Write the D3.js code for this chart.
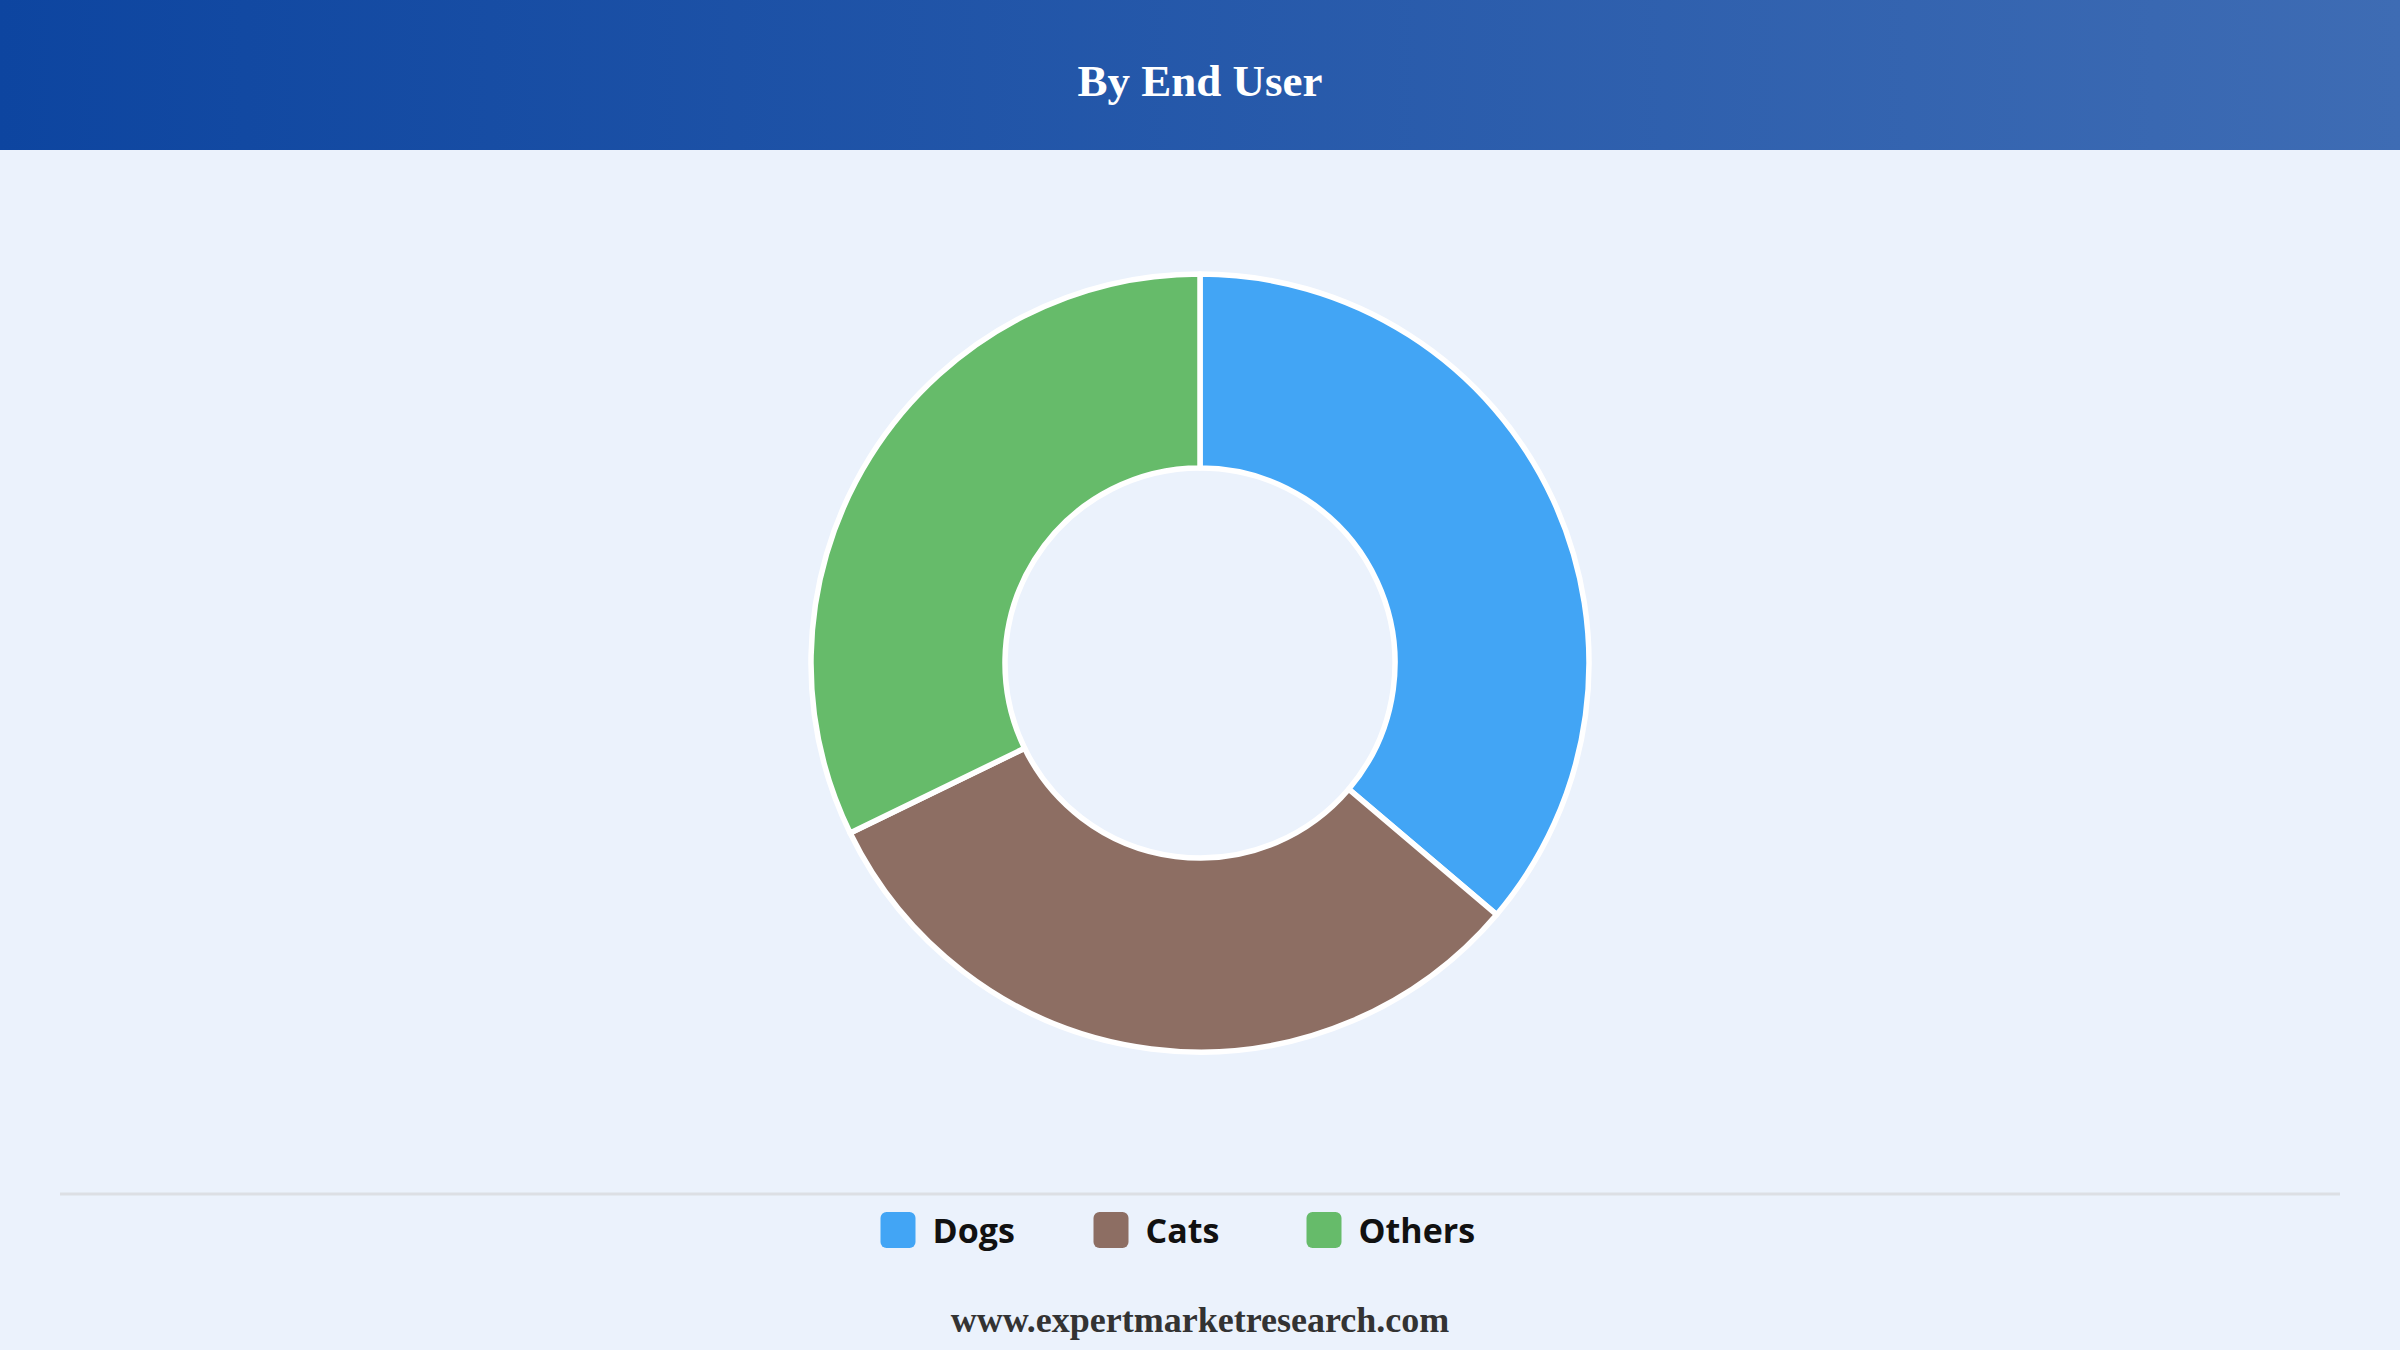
<!DOCTYPE html>
<html>
<head>
<meta charset="utf-8">
<script src="https://cdn.jsdelivr.net/npm/d3@7"></script>
<style>
  html, body { margin: 0; padding: 0; background: #ebf2fc; }
  svg { display: block; }
</style>
</head>
<body>
<svg id="chart" width="2400" height="1350"></svg>
<script>
const title = "By End User";
const categories = ["Dogs", "Cats", "Others"];
const shares = [36.2, 31.6, 32.2];
const colors = ["#42a5f5", "#8d6e63", "#66bb6a"];
const footer = "www.expertmarketresearch.com";

const W = 2400, H = 1350;
const svg = d3.select("#chart");

// background
svg.append("rect").attr("width", W).attr("height", H).attr("fill", "#ebf2fc");

// header gradient
const defs = svg.append("defs");
const grad = defs.append("linearGradient").attr("id", "hdr").attr("x1", "0%").attr("x2", "100%").attr("y1", "0%").attr("y2", "0%");
grad.append("stop").attr("offset", "0%").attr("stop-color", "#0d45a0");
grad.append("stop").attr("offset", "100%").attr("stop-color", "#3e6cb4");
svg.append("rect").attr("x", 0).attr("y", 0).attr("width", W).attr("height", 150).attr("fill", "url(#hdr)");
svg.append("text")
  .attr("x", W / 2).attr("y", 96)
  .attr("text-anchor", "middle")
  .attr("font-family", "'Liberation Serif', 'Times New Roman', serif")
  .attr("font-weight", "bold")
  .attr("font-size", 45)
  .attr("fill", "#ffffff")
  .text(title);

// donut
const cx = 1200, cy = 663, outerR = 389, innerR = 195;
const pie = d3.pie().sort(null).value(d => d.v).startAngle(0).endAngle(2 * Math.PI);
const data = categories.map((c, i) => ({ name: c, v: shares[i] }));
const arc = d3.arc().innerRadius(innerR).outerRadius(outerR);
const color = d3.scaleOrdinal().domain(categories).range(colors);

svg.append("g").attr("transform", `translate(${cx},${cy})`)
  .selectAll("path")
  .data(pie(data))
  .join("path")
  .attr("d", arc)
  .attr("fill", d => color(d.data.name))
  .attr("stroke", "#ffffff")
  .attr("stroke-width", 5.5)
  .attr("stroke-linejoin", "round");

// separator
svg.append("line")
  .attr("x1", 60).attr("x2", 2340)
  .attr("y1", 1194).attr("y2", 1194)
  .attr("stroke", "#dcdfe4").attr("stroke-width", 3);

// legend
const slot = 213;
const legendX = d3.scaleBand().domain(categories).range([W / 2 - slot * categories.length / 2, W / 2 + slot * categories.length / 2]);
const lg = svg.append("g").selectAll("g").data(categories).join("g")
  .attr("transform", d => `translate(${legendX(d)},1212)`);
lg.append("rect")
  .attr("width", 35).attr("height", 36).attr("rx", 6).attr("ry", 6)
  .attr("fill", d => color(d));
lg.append("text")
  .attr("x", 52).attr("y", 31)
  .attr("font-family", "'Open Sans', 'Noto Sans', sans-serif")
  .attr("font-weight", "bold")
  .attr("font-size", 34)
  .attr("fill", "#111111")
  .text(d => d);

// footer
svg.append("text")
  .attr("x", W / 2).attr("y", 1332)
  .attr("text-anchor", "middle")
  .attr("font-family", "'Liberation Serif', 'Times New Roman', serif")
  .attr("font-weight", "bold")
  .attr("font-size", 36)
  .attr("fill", "#333333")
  .text(footer);
</script>
</body>
</html>
